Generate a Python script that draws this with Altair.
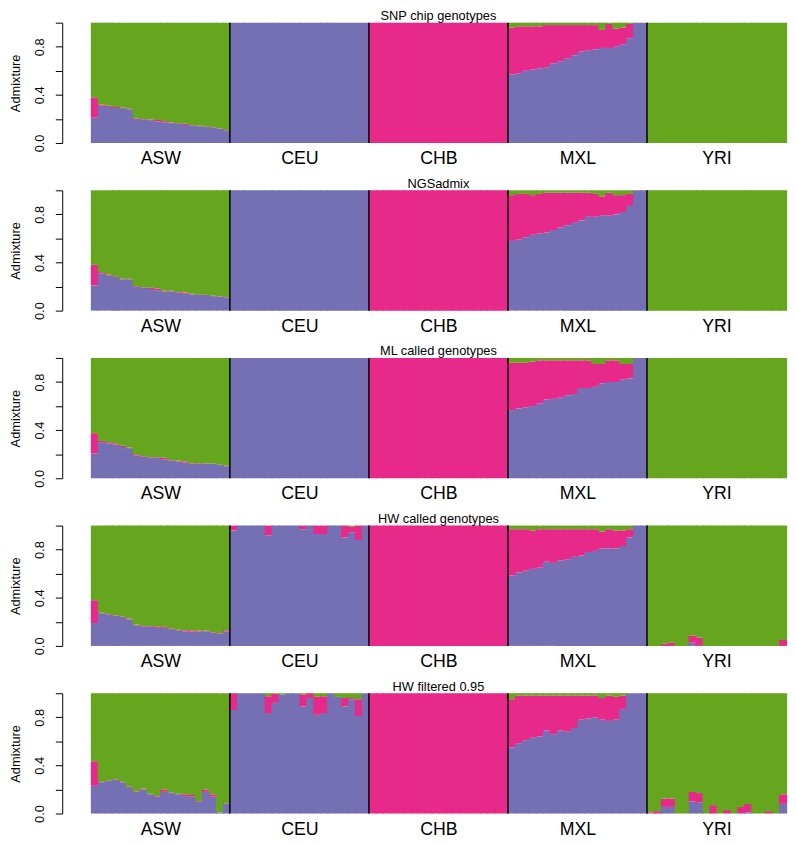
import altair as alt
import pandas as pd

POPS = ["ASW", "CEU", "CHB", "MXL", "YRI"]
TITLES = ["SNP chip genotypes", "NGSadmix", "ML called genotypes",
          "HW called genotypes", "HW filtered 0.95"]
COMPS = ["K1", "K2", "K3"]
COLORS = ["#7570B3", "#E7298A", "#66A61E"]
SEPARATORS = [20, 40, 60, 80]
Y_TICKS = [0.0, 0.2, 0.4, 0.6, 0.8, 1.0]
N_IND = 20

ONE = [1.0] * N_IND
ZERO = [0.0] * N_IND

# ---- Panel 1: SNP chip genotypes ----
p1_asw_purple = [0.21, 0.31, 0.30, 0.29, 0.29, 0.28, 0.20, 0.195, 0.19, 0.18,
                 0.17, 0.165, 0.16, 0.15, 0.145, 0.14, 0.135, 0.13, 0.12, 0.105]
p1_asw_pink = [0.17, 0.01, 0.01, 0.01, 0.005, 0.005, 0.005, 0.005, 0.005, 0.012,
               0.012, 0.005, 0.005, 0.01, 0.005, 0.003, 0.003, 0.003, 0.003, 0.003]
p1_mxl_purple = [0.57, 0.58, 0.60, 0.61, 0.62, 0.63, 0.66, 0.68, 0.70, 0.73,
                 0.76, 0.77, 0.78, 0.79, 0.79, 0.80, 0.82, 0.87, 1.0, 1.0]
p1_mxl_pink = [0.39, 0.39, 0.37, 0.36, 0.35, 0.35, 0.32, 0.30, 0.28, 0.25,
               0.22, 0.21, 0.20, 0.15, 0.20, 0.15, 0.14, 0.12, 0.0, 0.0]

# ---- Panel 2: NGSadmix ----
p2_asw_purple = [0.21, 0.31, 0.29, 0.28, 0.26, 0.26, 0.20, 0.19, 0.18, 0.17,
                 0.16, 0.16, 0.15, 0.14, 0.135, 0.13, 0.13, 0.12, 0.115, 0.11]
p2_asw_pink = [0.17, 0.01, 0.01, 0.005, 0.005, 0.005, 0.005, 0.005, 0.01, 0.015,
               0.005, 0.005, 0.005, 0.01, 0.005, 0.003, 0.003, 0.003, 0.003, 0.003]
p2_mxl_purple = [0.58, 0.59, 0.61, 0.63, 0.64, 0.65, 0.67, 0.69, 0.71, 0.73,
                 0.75, 0.78, 0.78, 0.79, 0.79, 0.80, 0.82, 0.87, 1.0, 1.0]
p2_mxl_pink = [0.38, 0.38, 0.36, 0.33, 0.33, 0.33, 0.31, 0.29, 0.27, 0.25,
               0.23, 0.20, 0.19, 0.16, 0.19, 0.16, 0.14, 0.10, 0.0, 0.0]

# ---- Panel 3: ML called genotypes ----
p3_asw_purple = [0.205, 0.30, 0.29, 0.28, 0.26, 0.25, 0.19, 0.18, 0.17, 0.17,
                 0.155, 0.145, 0.14, 0.13, 0.12, 0.12, 0.12, 0.12, 0.11, 0.10]
p3_asw_pink = [0.17, 0.01, 0.01, 0.01, 0.01, 0.005, 0.01, 0.005, 0.005, 0.005,
               0.015, 0.005, 0.005, 0.01, 0.005, 0.005, 0.003, 0.003, 0.003, 0.003]
p3_mxl_purple = [0.567, 0.58, 0.59, 0.60, 0.62, 0.655, 0.66, 0.67, 0.69, 0.70,
                 0.75, 0.75, 0.76, 0.79, 0.80, 0.80, 0.82, 0.83, 1.0, 1.0]
p3_mxl_pink = [0.393, 0.38, 0.37, 0.37, 0.36, 0.325, 0.32, 0.31, 0.29, 0.28,
               0.23, 0.23, 0.19, 0.16, 0.18, 0.18, 0.13, 0.12, 0.0, 0.0]

# ---- Panel 4: HW called genotypes ----
p4_asw_purple = [0.19, 0.27, 0.26, 0.25, 0.24, 0.22, 0.17, 0.16, 0.16, 0.15,
                 0.15, 0.14, 0.13, 0.12, 0.12, 0.12, 0.12, 0.11, 0.10, 0.12]
p4_asw_pink = [0.19, 0.005, 0.005, 0.005, 0.005, 0.005, 0.005, 0.005, 0.005, 0.01,
               0.01, 0.005, 0.005, 0.01, 0.01, 0.005, 0.005, 0.005, 0.005, 0.01]
p4_ceu_purple = [0.96, 1.0, 1.0, 1.0, 1.0, 0.92, 1.0, 1.0, 1.0, 1.0,
                 0.97, 1.0, 0.93, 0.93, 1.0, 1.0, 0.90, 0.945, 0.88, 1.0]
p4_ceu_pink = [0.04, 0.0, 0.0, 0.0, 0.0, 0.08, 0.0, 0.0, 0.0, 0.0,
               0.03, 0.0, 0.07, 0.07, 0.0, 0.0, 0.10, 0.045, 0.12, 0.0]
p4_mxl_purple = [0.586, 0.61, 0.625, 0.64, 0.65, 0.70, 0.69, 0.71, 0.72, 0.74,
                 0.75, 0.78, 0.79, 0.81, 0.81, 0.81, 0.83, 0.90, 1.0, 1.0]
p4_mxl_pink = [0.384, 0.36, 0.345, 0.32, 0.32, 0.27, 0.28, 0.26, 0.25, 0.23,
               0.22, 0.19, 0.18, 0.14, 0.16, 0.15, 0.13, 0.07, 0.0, 0.0]
p4_yri_purple = [0.0, 0.0, 0.0, 0.0, 0.0, 0.0, 0.027, 0.0, 0.0, 0.0,
                 0.0, 0.0, 0.0, 0.0, 0.0, 0.0, 0.0, 0.0, 0.0, 0.0]
p4_yri_pink = [0.0, 0.0, 0.02, 0.027, 0.0, 0.0, 0.06, 0.07, 0.0, 0.0,
               0.0, 0.0, 0.0, 0.0, 0.0, 0.0, 0.0, 0.0, 0.0, 0.05]

# ---- Panel 5: HW filtered 0.95 ----
p5_asw_purple = [0.23, 0.26, 0.27, 0.28, 0.26, 0.22, 0.18, 0.20, 0.16, 0.14,
                 0.18, 0.17, 0.16, 0.145, 0.14, 0.10, 0.18, 0.14, 0.01, 0.08]
p5_asw_pink = [0.205, 0.005, 0.005, 0.005, 0.005, 0.005, 0.005, 0.005, 0.005, 0.005,
               0.02, 0.005, 0.005, 0.015, 0.015, 0.005, 0.02, 0.02, 0.0, 0.005]
p5_ceu_purple = [0.86, 1.0, 1.0, 1.0, 1.0, 0.835, 0.92, 0.99, 1.0, 1.0,
                 0.89, 0.96, 0.82, 0.835, 1.0, 0.97, 0.89, 0.95, 0.81, 1.0]
p5_ceu_pink = [0.14, 0.0, 0.0, 0.0, 0.0, 0.14, 0.075, 0.0, 0.0, 0.0,
               0.10, 0.04, 0.15, 0.14, 0.0, 0.0, 0.07, 0.01, 0.14, 0.0]
p5_mxl_purple = [0.55, 0.585, 0.61, 0.63, 0.64, 0.69, 0.66, 0.69, 0.68, 0.71,
                 0.78, 0.79, 0.80, 0.78, 0.77, 0.78, 0.87, 1.0, 1.0, 1.0]
p5_mxl_pink = [0.40, 0.395, 0.37, 0.35, 0.34, 0.29, 0.32, 0.29, 0.30, 0.27,
               0.20, 0.19, 0.18, 0.18, 0.21, 0.19, 0.11, 0.0, 0.0, 0.0]
p5_yri_purple = [0.0, 0.0, 0.055, 0.055, 0.0, 0.0, 0.10, 0.09, 0.0, 0.0,
                 0.0, 0.0, 0.0, 0.0, 0.01, 0.0, 0.0, 0.0, 0.0, 0.08]
p5_yri_pink = [0.01, 0.02, 0.07, 0.07, 0.0, 0.0, 0.08, 0.08, 0.0, 0.07,
               0.0, 0.03, 0.0, 0.055, 0.07, 0.0, 0.0, 0.02, 0.0, 0.08]

PANELS = [
    {"ASW": (p1_asw_purple, p1_asw_pink), "CEU": (ONE, ZERO), "CHB": (ZERO, ONE),
     "MXL": (p1_mxl_purple, p1_mxl_pink), "YRI": (ZERO, ZERO)},
    {"ASW": (p2_asw_purple, p2_asw_pink), "CEU": (ONE, ZERO), "CHB": (ZERO, ONE),
     "MXL": (p2_mxl_purple, p2_mxl_pink), "YRI": (ZERO, ZERO)},
    {"ASW": (p3_asw_purple, p3_asw_pink), "CEU": (ONE, ZERO), "CHB": (ZERO, ONE),
     "MXL": (p3_mxl_purple, p3_mxl_pink), "YRI": (ZERO, ZERO)},
    {"ASW": (p4_asw_purple, p4_asw_pink), "CEU": (p4_ceu_purple, p4_ceu_pink), "CHB": (ZERO, ONE),
     "MXL": (p4_mxl_purple, p4_mxl_pink), "YRI": (p4_yri_purple, p4_yri_pink)},
    {"ASW": (p5_asw_purple, p5_asw_pink), "CEU": (p5_ceu_purple, p5_ceu_pink), "CHB": (ZERO, ONE),
     "MXL": (p5_mxl_purple, p5_mxl_pink), "YRI": (p5_yri_purple, p5_yri_pink)},
]

FONT = "Liberation Sans"


def panel_frame(spec):
    rows = []
    for j, pop in enumerate(POPS):
        purple, pink = spec[pop]
        for i in range(N_IND):
            idx = j * N_IND + i
            a = purple[i]
            b = pink[i]
            c = max(0.0, 1.0 - a - b)
            for comp, lo, hi in ((COMPS[0], 0.0, a), (COMPS[1], a, a + b), (COMPS[2], a + b, a + b + c)):
                if hi - lo > 0:
                    rows.append({"x0": idx, "y0": lo, "y1": min(hi, 1.0), "comp": comp})
    return pd.DataFrame(rows)


sep_df = pd.DataFrame({"pos": SEPARATORS})

label_expr = "{'10':'ASW','30':'CEU','50':'CHB','70':'MXL','90':'YRI'}[datum.label]"

x_axis = alt.Axis(values=[10, 30, 50, 70, 90], labelExpr=label_expr, domain=False, ticks=False,
                  grid=False, title=None, labelFontSize=18, labelPadding=7, labelColor="black",
                  labelFont=FONT, labelFlush=False)
y_axis = alt.Axis(values=Y_TICKS,
                  labelExpr="(datum.value == 0 || datum.value == 0.4 || datum.value == 0.8) ? format(datum.value, '.1f') : ''",
                  title="Admixture", titleFontSize=13, titleFontWeight="normal", titleColor="black",
                  titleFont=FONT, titlePadding=11, labelAngle=270, labelAlign="center",
                  labelBaseline="bottom", labelFontSize=13, labelFont=FONT, labelColor="black",
                  labelPadding=9, tickSize=7, tickColor="black", domainColor="black",
                  offset=29, grid=False, labelOverlap=False)


def make_panel(k):
    d = panel_frame(PANELS[k])
    # each bar is widened a little so neighbouring bars overlap and no seams show
    bars = alt.Chart(d).transform_calculate(x1="datum.x0 + 1.16").mark_rect().encode(
        x=alt.X("x0:Q", scale=alt.Scale(domain=[0, 100], nice=False, zero=False), axis=x_axis),
        x2="x1:Q",
        y=alt.Y("y0:Q", scale=alt.Scale(domain=[0, 1], nice=False), axis=y_axis),
        y2="y1:Q",
        color=alt.Color("comp:N", scale=alt.Scale(domain=COMPS, range=COLORS), legend=None),
    )
    rules = alt.Chart(sep_df).mark_rule(color="black", strokeWidth=1.5).encode(x="pos:Q")
    return alt.layer(bars, rules).properties(
        width=705, height=122,
        title=alt.TitleParams(TITLES[k], fontSize=13, fontWeight="normal", anchor="middle",
                              frame="group", offset=-1, font=FONT, color="black"),
    )


chart = alt.vconcat(*[make_panel(k) for k in range(5)], spacing=10).properties(
    padding={"left": 2, "top": -4, "right": 0, "bottom": 0}
).configure_view(stroke=None).configure_concat(spacing=10)

chart.save("out.html", embed_options={"renderer": "svg", "actions": False})
